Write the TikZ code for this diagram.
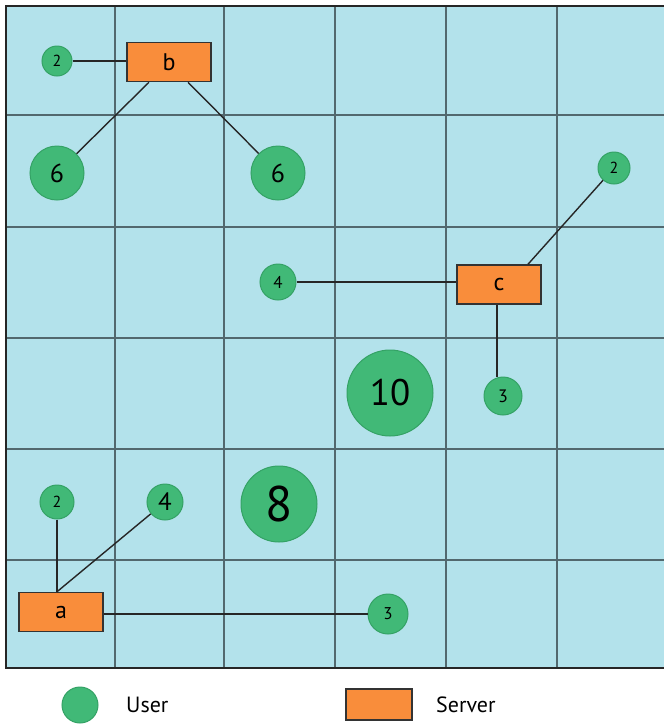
\documentclass[tikz,border=0pt]{standalone}
\usepackage{fontspec}
\setmainfont{PT Sans}
\definecolor{bgblue}{HTML}{B3E2EB}
\definecolor{gridc}{HTML}{52686E}
\definecolor{ugreen}{HTML}{41B977}
\definecolor{udark}{HTML}{34A265}
\definecolor{sorange}{HTML}{F98D3B}
\newcommand{\fs}[1]{\fontsize{#1}{#1}\selectfont}
\begin{document}
\begin{tikzpicture}[x=1pt,y=-1pt,
  user/.style={circle,fill=ugreen,draw=udark,line width=1pt,inner sep=0pt,minimum size=#1},
  server/.style={rectangle,fill=sorange,draw=black!80,line width=1.5pt,minimum width=84pt,minimum height=39pt,inner sep=0pt,font=\fs{24}},
  link/.style={draw=black!85,line width=1.4pt},
  gridline/.style={draw=gridc,line width=1.3pt},
  legendtext/.style={anchor=west,inner sep=0pt,font=\fs{22}},
]
\useasboundingbox (0,0) rectangle (664,724);
% background
\fill[bgblue] (6,6) rectangle (666,668);
\foreach \x in {115,224,335,446,557} \draw[gridline] (\x,6) -- (\x,668);
\foreach \y in {115,227,338,449,560} \draw[gridline] (6,\y) -- (666,\y);
\draw[draw=black!85,line width=2pt] (666,6) -- (6,6) -- (6,668) -- (666,668);

% servers
\node[server] (b) at (169,62) {b};
\node[server] (c) at (499,284.5) {c};
\node[server] (a) at (61,612) {a};

% users
\node[user=30pt,font=\fs{16}] (ub2) at (57,61) {2};
\node[user=54pt,font=\fs{26}] (ub6l) at (57,173) {6};
\node[user=54pt,font=\fs{26}] (ub6r) at (278,173) {6};
\node[user=36pt,font=\fs{17}] (uc4) at (278,282) {4};
\node[user=32pt,font=\fs{16}] (uc2) at (614,168) {2};
\node[user=38pt,font=\fs{18}] (uc3) at (503,396) {3};
\node[user=86pt,font=\fs{37}] (u10) at (390,393) {10};
\node[user=34pt,font=\fs{16}] (ua2) at (57,502) {2};
\node[user=36pt,font=\fs{25}] (ua4) at (165,502) {4};
\node[user=76pt,font=\fs{50}] (u8) at (279,504) {8};
\node[user=40pt,font=\fs{17}] (ua3) at (388,614) {3};

% links
\draw[link] (ub2) -- (b.west |- ub2);
\draw[link] ([xshift=-20pt]b.south) -- (ub6l);
\draw[link] ([xshift=19pt]b.south) -- (ub6r);
\draw[link] (uc4) -- (c.west |- uc4);
\draw[link] ([xshift=29pt]c.north) -- (uc2);
\draw[link] ([xshift=-2pt]c.south) -- ([xshift=-2pt]c.south |- uc3.north);
\coordinate (atop) at (ua2 |- a.north);
\draw[link] (ua2) -- (atop);
\draw[link] (atop) -- (ua4);
\draw[link] (a.east |- ua3) -- (ua3);

% legend
\node[user=36pt] (lu) at (80,705) {};
\node[legendtext] (lut) at (126,705) {User};
\node[rectangle,fill=sorange,draw=black!80,line width=1.5pt,minimum width=66pt,minimum height=31pt,inner sep=0pt] (ls) at (379,704.5) {};
\node[legendtext] (lst) at (436,705) {Server};
\end{tikzpicture}
\end{document}
